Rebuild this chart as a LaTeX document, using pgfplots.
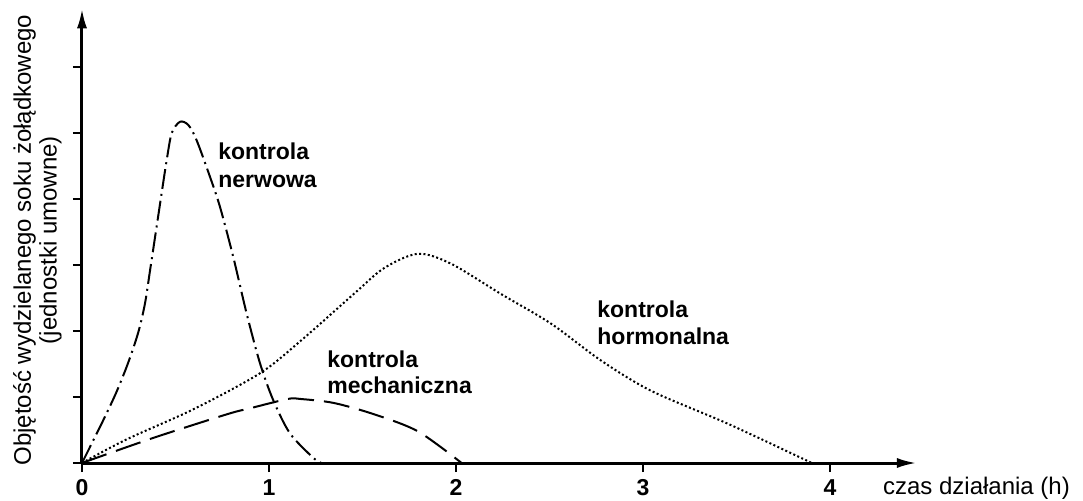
\documentclass[border=0pt]{standalone}
\usepackage{fontspec}
\setmainfont{Liberation Sans}
\usepackage{pgfplots}
\pgfplotsset{compat=1.18}
\usetikzlibrary{arrows.meta}

\begin{document}
\begin{tikzpicture}
\begin{axis}[
    anchor=origin, at={(0,0)},
    x=93.5pt, y=33pt,
    xmin=0, xmax=4.465,
    ymin=0, ymax=6.89,
    axis lines=left,
    axis line style={line width=1.5pt, -{Latex[length=10pt,width=5pt]}},
    tick style={line width=1pt, black},
    tick align=outside,
    major tick length=4.5pt,
    xtick={0,1,2,3,4},
    ytick={0,1,2,3,4,5,6},
    yticklabels={},
    /pgf/number format/assume math mode=true,
    xticklabel style={font=\bfseries\fontsize{11.5}{12}\selectfont, anchor=base, yshift=-11.5pt},
    xlabel={czas działania (h)},
    xlabel style={at={(axis description cs:0.959,0)}, anchor=base west, yshift=-15.5pt,
        inner sep=0pt, font=\fontsize{12}{12}\selectfont},
    ylabel={Objętość wydzielanego soku żołądkowego\\(jednostki umowne)},
    ylabel style={at={(axis description cs:-0.024,0.49)}, anchor=south, inner sep=0pt,
        align=center, font=\fontsize{12}{12.8}\selectfont},
    clip=false,
]

% kontrola nerwowa
\addplot[black, line width=1pt, smooth, tension=0.5,
    dash pattern=on 10pt off 2.5pt on 1pt off 2.5pt]
coordinates {(0,0)(0.114,0.65)(0.185,1.08)(0.247,1.52)(0.301,1.98)(0.337,2.42)
(0.364,2.92)(0.399,3.58)(0.426,4.09)(0.453,4.59)(0.480,5.00)(0.524,5.17)
(0.569,5.12)(0.613,4.89)(0.684,4.34)(0.738,3.88)(0.809,3.12)(0.880,2.27)
(0.952,1.51)(1.023,0.95)(1.112,0.45)(1.236,0.08)(1.28,0)};

% kontrola hormonalna
\addplot[black, line width=1pt, smooth, tension=0.5,
    dash pattern=on 1pt off 1.2pt]
coordinates {(0,0)(0.24,0.36)(0.6,0.82)(0.952,1.36)(1.169,1.85)(1.453,2.56)
(1.614,2.95)(1.796,3.17)(1.973,3.02)(2.241,2.56)(2.509,2.11)(2.777,1.55)
(3.046,1.09)(3.458,0.59)(3.903,0)};

% kontrola mechaniczna
\addplot[black, line width=1pt, smooth, tension=0.5,
    dash pattern=on 13pt off 5pt]
coordinates {(0,0)(0.381,0.38)(0.777,0.74)(0.9,0.83)(1.1,0.97)(1.169,0.97)
(1.346,0.91)(1.56,0.74)(1.796,0.48)(2.03,0)};

\node[anchor=north west, inner sep=0pt, align=left,
    font=\bfseries\fontsize{11.5}{14}\selectfont] at (axis cs:0.727,4.85) {kontrola\\nerwowa};
\node[anchor=north west, inner sep=0pt, align=left,
    font=\bfseries\fontsize{11.5}{13}\selectfont] at (axis cs:1.31,1.71) {kontrola\\mechaniczna};
\node[anchor=north west, inner sep=0pt, align=left,
    font=\bfseries\fontsize{11.5}{13.5}\selectfont] at (axis cs:2.754,2.47) {kontrola\\hormonalna};
\end{axis}
\pgfresetboundingbox
\path[use as bounding box] (-41pt,-18.5pt) rectangle (500.5pt,231.5pt);
\end{tikzpicture}
\end{document}
